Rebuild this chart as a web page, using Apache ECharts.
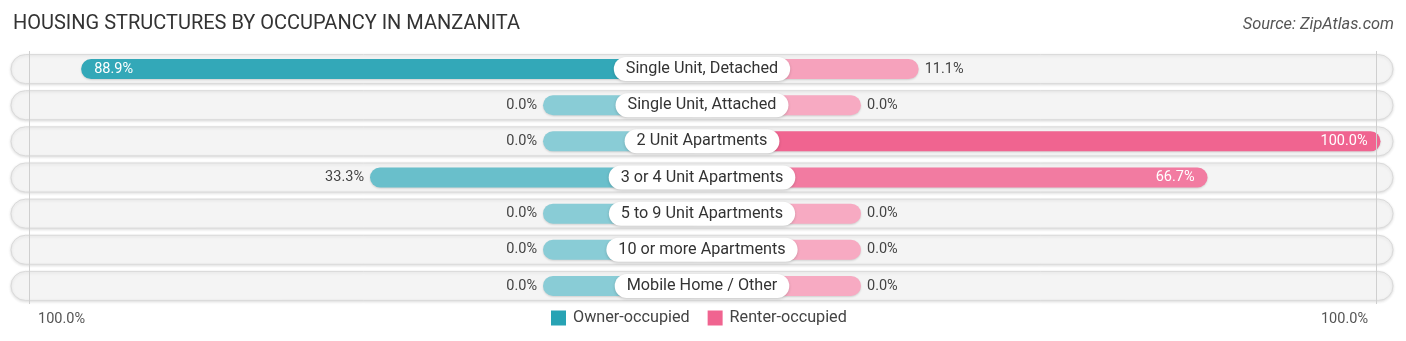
<!DOCTYPE html>
<html>
<head>
<meta charset="utf-8">
<script src="https://cdn.jsdelivr.net/npm/echarts@6/dist/echarts.min.js"></script>
<style>
html,body{margin:0;padding:0;background:#fff;}
#chart{width:1406px;height:341px;}
</style>
</head>
<body>
<div id="chart"></div>
<script>
const categories = ['Single Unit, Detached','Single Unit, Attached','2 Unit Apartments','3 or 4 Unit Apartments','5 to 9 Unit Apartments','10 or more Apartments','Mobile Home / Other'];
const ownerValues = [88.9, 0.0, 0.0, 33.3, 0.0, 0.0, 0.0];
const renterValues = [11.1, 0.0, 100.0, 66.7, 0.0, 0.0, 0.0];
const seriesNames = ['Owner-occupied', 'Renter-occupied'];
const axisEndLabels = ['100.0%', '100.0%'];
const titleText = 'HOUSING STRUCTURES BY OCCUPANCY IN MANZANITA';
const sourceText = 'Source: ZipAtlas.com';

// layout constants (not data)
const STUB = 30.6;      // visual stub behind the centre label, in axis units
const AXIS_MAX = 133;
const INSIDE_MIN = 50;  // values above this get the label inside the bar
const FONT = 'Roboto, "Open Sans", sans-serif';

function tint(rgb, v) {
  const t = 0.45 * (1 - v / 100);
  const c = rgb.map(x => Math.round(x + (255 - x) * t));
  return 'rgb(' + c.join(',') + ')';
}
const OWNER_RGB = [40, 163, 180];
const RENTER_RGB = [240, 100, 144];

function fmt(v) { return v.toFixed(1) + '%'; }

const ownerData = ownerValues.map(v => ({
  value: -(v + STUB),
  itemStyle: { color: tint(OWNER_RGB, v) },
  label: v > INSIDE_MIN
    ? { position: 'insideLeft', color: '#fff', distance: 13 }
    : { position: 'left', color: '#444', distance: 6 }
}));
const renterData = renterValues.map(v => ({
  value: v + STUB,
  itemStyle: { color: tint(RENTER_RGB, v) },
  label: v > INSIDE_MIN
    ? { position: 'insideRight', color: '#fff', distance: 13 }
    : { position: 'right', color: '#444', distance: 6 }
}));

const chart = echarts.init(document.getElementById('chart'), null, { renderer: 'canvas' });
chart.setOption({
  animation: false,
  backgroundColor: '#fff',
  textStyle: { fontFamily: FONT },
  title: [
    { text: titleText, left: 8, top: 9, textStyle: { fontFamily: FONT, fontSize: 20, fontWeight: 'normal', color: '#333' } },
    { text: sourceText, right: 7, top: 12, textStyle: { fontFamily: FONT, fontSize: 16.4, fontWeight: 'normal', fontStyle: 'italic', color: '#555' } },
    { text: axisEndLabels[0], left: 33, top: 307, textStyle: { fontFamily: FONT, fontSize: 14.5, fontWeight: 'normal', color: '#555' } },
    { text: axisEndLabels[1], right: 33, top: 307, textStyle: { fontFamily: FONT, fontSize: 14.5, fontWeight: 'normal', color: '#555' } }
  ],
  legend: {
    data: seriesNames,
    left: 546,
    top: 305,
    icon: 'rect',
    itemWidth: 15,
    itemHeight: 15,
    itemGap: 18,
    textStyle: { fontFamily: FONT, fontSize: 16.2, color: '#444', padding: [0, 0, 0, 2] }
  },
  grid: { left: 11, right: 13, top: 51, height: 253, containLabel: false },
  xAxis: {
    type: 'value', min: -AXIS_MAX, max: AXIS_MAX,
    axisLine: { show: false }, axisTick: { show: false }, axisLabel: { show: false }, splitLine: { show: false }
  },
  yAxis: [
    { type: 'category', data: categories, inverse: true, axisLine: { show: false }, axisTick: { show: false }, axisLabel: { show: false } },
    { type: 'category', data: categories, inverse: true, axisLine: { show: false }, axisTick: { show: false }, axisLabel: { show: false } }
  ],
  series: [
    {
      name: 'bg', type: 'bar', yAxisIndex: 1, barWidth: 29, silent: true,
      data: categories.map(() => 0),
      showBackground: true,
      backgroundStyle: {
        color: '#f4f4f4', borderRadius: 14.5, borderColor: '#dadada', borderWidth: 1,
        shadowBlur: 3, shadowColor: 'rgba(0,0,0,0.12)', shadowOffsetY: 1
      },
      itemStyle: { opacity: 0 },
      markLine: {
        silent: true, symbol: 'none', label: { show: false },
        lineStyle: { color: '#cfcfcf', width: 1, type: 'solid' },
        data: [{ xAxis: -129.4 }, { xAxis: 129.8 }]
      },
      z: 1
    },
    {
      name: seriesNames[0], type: 'bar', yAxisIndex: 0, barWidth: 20, barGap: '-100%',
      itemStyle: { color: tint(OWNER_RGB, 100), borderRadius: 10, shadowBlur: 2, shadowColor: 'rgba(0,0,0,0.15)', shadowOffsetY: 1 },
      label: { show: true, fontSize: 14.5, fontFamily: FONT, formatter: p => fmt(ownerValues[p.dataIndex]) },
      data: ownerData,
      z: 3
    },
    {
      name: seriesNames[1], type: 'bar', yAxisIndex: 0, barWidth: 20, barGap: '-100%',
      itemStyle: { color: tint(RENTER_RGB, 100), borderRadius: 10, shadowBlur: 2, shadowColor: 'rgba(0,0,0,0.15)', shadowOffsetY: 1 },
      label: { show: true, fontSize: 14.5, fontFamily: FONT, formatter: p => fmt(renterValues[p.dataIndex]) },
      data: renterData,
      z: 3
    },
    {
      name: 'labels', type: 'scatter', yAxisIndex: 0, symbolSize: 1, silent: true,
      itemStyle: { color: '#ffffff', opacity: 1 },
      emphasis: { disabled: true },
      data: categories.map((c, i) => [0, i]),
      label: {
        show: true, position: 'inside', opacity: 1,
        formatter: p => categories[p.dataIndex],
        fontFamily: FONT, fontSize: 16.2, lineHeight: 18, color: '#333',
        backgroundColor: '#ffffff', borderRadius: 12, padding: [3, 12, 3, 12],
        shadowBlur: 3, shadowColor: 'rgba(0,0,0,0.18)', shadowOffsetY: 1
      },
      z: 10
    }
  ]
});
</script>
</body>
</html>
